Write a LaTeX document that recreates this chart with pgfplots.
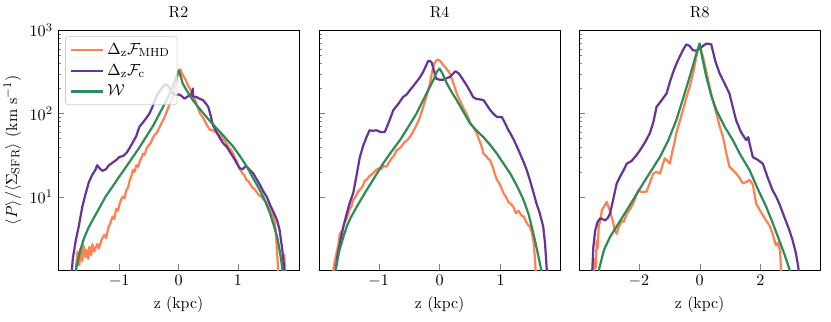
\documentclass[border=0pt]{standalone}
\usepackage{pgfplots}
\pgfplotsset{compat=1.18}

\definecolor{cmhd}{RGB}{255,128,80}
\definecolor{cc}{RGB}{102,51,153}
\definecolor{cw}{RGB}{46,139,87}

\newcommand{\figfont}{\fontsize{10.8}{13}\selectfont}

\pgfplotsset{
  rpanel/.style={
    scale only axis, width=164pt, height=163pt,
    ymin=1.32, ymax=1000,
    ytick={10,100,1000},
    tick align=inside, xtick pos=left, ytick pos=left,
    major tick length=4pt, minor tick length=2pt,
    axis line style={line width=0.6pt},
    xlabel={z (kpc)},
    title style={font=\figfont, yshift=-1pt},
    label style={font=\figfont},
    tick label style={font=\figfont},
    every axis plot/.append style={line width=1.5pt, line join=round},
  },
  longline/.style={line width=1.5pt,
    legend image code/.code={\draw[##1] (0pt,0pt) -- (22pt,0pt);}},
}

\begin{document}
\begin{tikzpicture}
\useasboundingbox (-39.4pt,-34.7pt) rectangle (525.6pt,183.6pt);

% ---- R2 ----
\begin{semilogyaxis}[rpanel, at={(0pt,0pt)}, xmin=-2.03, xmax=2.03, xtick={-1,0,1},
  title={R2},
  ylabel={$\langle P\rangle/\langle\Sigma_{\rm SFR}\rangle$ (km s$^{-1}$)},
  ylabel style={yshift=-1pt},
  legend style={at={(0.03,0.975)}, anchor=north west, draw=black!20, rounded corners=2pt,
    fill=white, fill opacity=0.8, text opacity=1, font=\figfont, row sep=1.2pt,
    inner xsep=3pt, inner ysep=2.5pt},
  legend cell align=left,
]
\addlegendimage{cmhd, longline}
\addlegendentry{$\Delta_{\rm z}\mathcal{F}_{\rm MHD}$}
\addlegendimage{cc, longline}
\addlegendentry{$\Delta_{\rm z}\mathcal{F}_{\rm c}$}
\addlegendimage{cw, longline}
\addlegendentry{$\mathcal{W}$}
\addplot[cmhd, forget plot] coordinates {
(-1.74,0.9) (-1.72,1.6) (-1.70,2.2) (-1.67,1.5) (-1.65,2.4) (-1.62,1.7) (-1.60,2.6)
(-1.57,1.9) (-1.55,2.3) (-1.52,1.8) (-1.50,2.5) (-1.47,2.0) (-1.45,2.7) (-1.42,2.2)
(-1.40,2.4) (-1.37,2.7) (-1.34,2.4) (-1.30,3.0) (-1.25,3.5) (-1.22,3.2) (-1.18,4.3)
(-1.15,4.8) (-1.11,5.8) (-1.08,5.4) (-1.05,7.2) (-1.02,6.8) (-0.99,8.3) (-0.96,9.5)
(-0.94,10) (-0.91,9.6) (-0.88,12) (-0.85,13) (-0.82,16) (-0.79,18) (-0.77,21)
(-0.74,20) (-0.71,24) (-0.68,23) (-0.65,27) (-0.62,30) (-0.60,33) (-0.57,32)
(-0.54,38) (-0.50,42) (-0.47,44) (-0.44,50) (-0.40,56) (-0.37,58) (-0.33,66)
(-0.29,76) (-0.25,86) (-0.21,100) (-0.17,120) (-0.13,140) (-0.10,160) (-0.07,195)
(-0.04,240) (-0.02,280) (0.01,320) (0.03,340) (0.06,300) (0.09,275) (0.13,245)
(0.16,215) (0.19,200) (0.22,175) (0.25,160) (0.28,145) (0.31,125) (0.36,100)
(0.40,92) (0.44,82) (0.48,72) (0.53,63) (0.56,64) (0.60,61) (0.64,59) (0.67,55)
(0.70,56) (0.74,50) (0.78,47) (0.82,42) (0.86,38) (0.89,36) (0.92,33) (0.95,29)
(0.98,27) (1.01,23) (1.04,21) (1.08,19) (1.11,18) (1.14,16) (1.17,15.5) (1.20,14.5)
(1.24,13) (1.28,12.3) (1.31,11.5) (1.35,10.5) (1.38,10.2) (1.42,9.5) (1.46,8.8)
(1.50,8.0) (1.53,7.2) (1.56,6.5) (1.59,5.8) (1.62,5.0) (1.64,3.5) (1.66,2.1)
(1.68,1.2) (1.72,0.8) (1.76,1.5) (1.78,2.0) (1.80,0.9)
};
\addplot[cc, forget plot] coordinates {
(-1.82,0.8) (-1.78,1.8) (-1.73,3.0) (-1.68,4.4) (-1.62,7.6) (-1.57,10.5) (-1.51,15)
(-1.45,18.5) (-1.40,21) (-1.37,24) (-1.33,22) (-1.28,20.5) (-1.22,21.5) (-1.17,24)
(-1.10,26) (-1.04,28) (-1.00,30) (-0.93,31) (-0.87,34) (-0.83,38) (-0.77,45)
(-0.71,54) (-0.66,69) (-0.60,78) (-0.55,87) (-0.49,100) (-0.44,120) (-0.38,158)
(-0.32,185) (-0.27,209) (-0.22,222) (-0.19,219) (-0.15,205) (-0.12,182) (-0.08,172)
(-0.04,166) (0.00,170) (0.04,165) (0.10,151) (0.14,158) (0.19,166) (0.22,170)
(0.24,200) (0.245,160) (0.30,158) (0.36,150) (0.41,145) (0.46,132) (0.50,120)
(0.54,95) (0.58,72) (0.64,60) (0.70,50) (0.75,44) (0.81,40) (0.87,34) (0.92,30)
(0.97,26) (1.03,22) (1.08,21.5) (1.12,23) (1.15,23) (1.20,21) (1.26,19) (1.32,16)
(1.38,13.5) (1.43,11.5) (1.49,9.8) (1.54,8.0) (1.60,6.5) (1.66,5.2) (1.70,4.0)
(1.74,2.5) (1.77,1.6) (1.80,0.9)
};
\addplot[cw, forget plot] coordinates {
(-1.76,0.9) (-1.72,1.4) (-1.66,2.2) (-1.59,3.2) (-1.52,4.2) (-1.45,5.2) (-1.34,7.2)
(-1.23,10) (-1.11,13.3) (-1.00,17.4) (-0.89,22.5) (-0.77,30) (-0.66,39) (-0.55,52)
(-0.43,71) (-0.32,100) (-0.23,133) (-0.15,174) (-0.09,220) (-0.04,275) (0.00,331)
(0.03,290) (0.07,229) (0.15,182) (0.24,145) (0.35,115) (0.47,91) (0.58,74)
(0.70,60) (0.81,49) (0.92,40) (1.03,31) (1.15,23) (1.26,16.5) (1.37,12) (1.46,8.8)
(1.54,6.3) (1.60,4.6) (1.66,3.3) (1.71,2.1) (1.76,1.2) (1.80,0.7)
};
\end{semilogyaxis}

% ---- R4 ----
\begin{semilogyaxis}[rpanel, at={(177.5pt,0pt)}, xmin=-1.98, xmax=1.98, xtick={-1,0,1},
  yticklabels={,,}, title={R4}]
\addplot[cmhd] coordinates {
(-1.77,0.9) (-1.75,1.3) (-1.70,2.0) (-1.66,2.7) (-1.64,3.6) (-1.60,3.9) (-1.56,4.9)
(-1.52,5.6) (-1.48,7.0) (-1.45,7.6) (-1.42,9.1) (-1.38,10) (-1.34,11.5) (-1.30,12.4)
(-1.26,13.5) (-1.23,15.5) (-1.20,16) (-1.16,17.5) (-1.12,18.5) (-1.08,19.5) (-1.04,21)
(-1.00,22) (-0.96,21.5) (-0.92,23.5) (-0.87,23) (-0.83,26) (-0.79,29) (-0.75,31)
(-0.71,36) (-0.66,38) (-0.62,41) (-0.58,45) (-0.53,48) (-0.49,52) (-0.44,60)
(-0.40,68) (-0.36,78) (-0.32,92) (-0.27,120) (-0.23,150) (-0.19,185) (-0.16,229)
(-0.13,300) (-0.09,398) (-0.05,437) (-0.02,445) (0.02,420) (0.06,380) (0.10,355)
(0.14,325) (0.17,302) (0.21,250) (0.25,205) (0.28,174) (0.32,150) (0.36,130)
(0.40,112) (0.44,100) (0.48,85) (0.52,74) (0.56,67) (0.61,58) (0.65,48) (0.69,40)
(0.72,33) (0.76,31) (0.80,28.5) (0.83,27.5) (0.87,23) (0.90,19.5) (0.94,16)
(0.98,14.5) (1.02,12.5) (1.05,11) (1.09,10) (1.13,8.6) (1.17,8.2) (1.21,7.6)
(1.25,6.4) (1.30,6.8) (1.34,6.0) (1.38,5.8) (1.42,5.0) (1.45,4.6) (1.48,4.4)
(1.51,3.8) (1.54,3.0) (1.56,2.0) (1.58,1.2) (1.60,0.8)
};
\addplot[cc] coordinates {
(-1.74,0.8) (-1.68,1.9) (-1.62,3.2) (-1.58,4.4) (-1.52,6.5) (-1.47,8.7) (-1.42,11)
(-1.37,17) (-1.31,30) (-1.25,42) (-1.20,52) (-1.15,63) (-1.10,62) (-1.04,63)
(-0.97,60) (-0.90,60) (-0.83,80) (-0.76,110) (-0.68,130) (-0.60,158) (-0.54,170)
(-0.49,190) (-0.43,215) (-0.38,240) (-0.32,275) (-0.27,316) (-0.22,380) (-0.19,425)
(-0.16,430) (-0.13,410) (-0.09,320) (-0.06,263) (0.00,255) (0.06,255) (0.11,265)
(0.17,275) (0.22,300) (0.26,323) (0.32,300) (0.39,251) (0.45,215) (0.50,185)
(0.55,158) (0.60,150) (0.66,148) (0.72,145) (0.78,125) (0.83,110) (0.88,100)
(0.94,91) (1.02,91) (1.07,78) (1.12,65) (1.16,58) (1.22,48) (1.27,40) (1.32,33)
(1.38,26) (1.43,21) (1.48,16) (1.53,12) (1.59,8.3) (1.64,6.5) (1.70,4.4)
(1.73,2.8) (1.76,1.3) (1.78,0.8)
};
\addplot[cw] coordinates {
(-1.74,0.9) (-1.71,1.3) (-1.65,2.2) (-1.58,3.3) (-1.52,4.5) (-1.45,5.8) (-1.33,8.3)
(-1.20,12) (-1.07,17) (-0.93,25) (-0.79,35) (-0.65,48) (-0.52,68) (-0.38,100)
(-0.27,145) (-0.16,209) (-0.09,265) (-0.05,316) (0.00,347) (0.05,300) (0.12,229)
(0.20,180) (0.28,145) (0.39,105) (0.50,76) (0.61,62) (0.72,52) (0.83,42) (0.94,33)
(1.05,25) (1.16,19) (1.27,13.5) (1.38,9.1) (1.46,6.2) (1.54,3.6) (1.60,2.3)
(1.68,1.2) (1.72,0.8)
};
\end{semilogyaxis}

% ---- R8 ----
\begin{semilogyaxis}[rpanel, at={(354.3pt,0pt)}, xmin=-3.97, xmax=3.97, xtick={-2,0,2},
  yticklabels={,,}, title={R8}]
\addplot[cmhd] coordinates {
(-3.52,0.9) (-3.48,1.5) (-3.45,1.8) (-3.42,1.4) (-3.39,3.0) (-3.36,2.4) (-3.32,4.5)
(-3.27,5.2) (-3.22,6.9) (-3.15,7.6) (-3.06,8.7) (-2.98,7.2) (-2.90,5.8) (-2.84,4.8)
(-2.80,4.0) (-2.73,3.6) (-2.68,4.2) (-2.62,4.6) (-2.57,5.2) (-2.50,5.0) (-2.40,6.3)
(-2.30,7.0) (-2.19,8.3) (-2.10,10) (-2.02,12) (-1.94,11.5) (-1.85,11.5) (-1.75,11.5)
(-1.66,14) (-1.53,19) (-1.42,20) (-1.31,19) (-1.22,24) (-1.15,29) (-1.06,27)
(-0.98,25) (-0.90,35) (-0.83,45) (-0.77,58) (-0.66,80) (-0.55,110) (-0.44,155)
(-0.33,209) (-0.22,300) (-0.11,479) (-0.05,600) (0.00,692) (0.05,560) (0.11,479)
(0.22,320) (0.33,209) (0.44,140) (0.55,100) (0.66,70) (0.77,52) (0.88,33)
(0.98,23) (1.09,21) (1.20,19) (1.31,17) (1.42,14.5) (1.53,15) (1.64,16) (1.75,14)
(1.86,8.3) (1.97,7.0) (2.08,6.0) (2.19,5.2) (2.30,4.5) (2.40,3.6) (2.51,2.6)
(2.58,2.8) (2.65,2.2) (2.68,1.2) (2.70,0.8)
};
\addplot[cc] coordinates {
(-3.56,0.8) (-3.50,2.5) (-3.44,3.9) (-3.36,5.0) (-3.28,5.5) (-3.20,5.4) (-3.11,5.2)
(-3.02,5.6) (-2.95,6.3) (-2.84,9.5) (-2.73,14.5) (-2.60,18) (-2.50,21) (-2.40,25)
(-2.24,27) (-2.10,31) (-1.97,36) (-1.80,45) (-1.64,58) (-1.52,80) (-1.42,120)
(-1.25,145) (-1.09,174) (-0.98,240) (-0.87,316) (-0.76,400) (-0.66,479) (-0.55,580)
(-0.44,676) (-0.33,650) (-0.22,575) (-0.11,570) (0.00,600) (0.11,650) (0.22,692)
(0.38,680) (0.52,420) (0.66,302) (0.82,230) (0.98,174) (1.09,120) (1.20,83)
(1.36,60) (1.53,48) (1.60,52) (1.64,44) (1.75,30) (1.90,28) (2.08,25) (2.24,17)
(2.40,12) (2.52,10) (2.62,8.3) (2.78,5.8) (2.95,4.0) (3.06,3.0) (3.17,2.1)
(3.25,1.4) (3.30,0.8)
};
\addplot[cw] coordinates {
(-3.36,0.9) (-3.30,1.4) (-3.15,2.3) (-2.95,3.3) (-2.70,4.6) (-2.40,6.9) (-2.13,10)
(-1.86,14.5) (-1.58,21) (-1.31,30) (-1.04,47) (-0.77,83) (-0.55,150) (-0.33,275)
(-0.20,400) (-0.11,525) (0.00,692) (0.08,480) (0.22,275) (0.38,165) (0.55,110)
(0.82,70) (1.09,48) (1.36,31) (1.64,21) (1.91,12.5) (2.19,7.6) (2.40,4.9) (2.62,3.0)
(2.80,2.0) (3.00,1.2) (3.06,0.8)
};
\end{semilogyaxis}
\end{tikzpicture}
\end{document}
